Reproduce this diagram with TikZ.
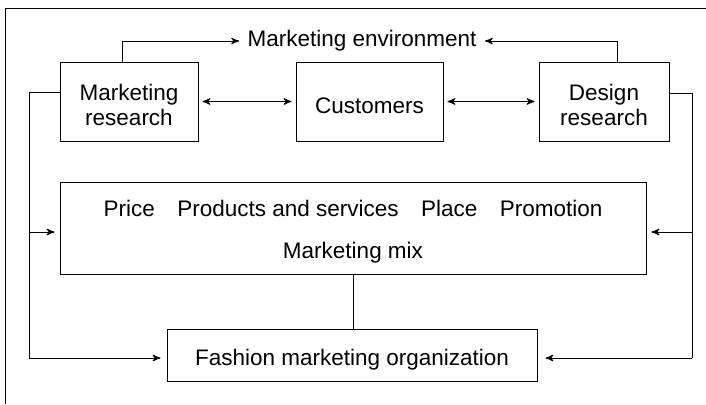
\documentclass[tikz,border=0pt]{standalone}
\usepackage{fontspec}
\setmainfont{Liberation Sans}
\usetikzlibrary{positioning, arrows}

\begin{document}
\begin{tikzpicture}[x=0.5pt,y=-0.5pt,>=stealth',line width=0.5pt,
        font=\fontsize{11.25}{12.5}\selectfont,
        box/.style={draw,align=center,inner sep=0pt},
        link/.style={shorten >=2pt,shorten <=2pt}]
        \useasboundingbox (0,0) rectangle (706,404);
        \draw (706,8) -| (5,404);
        % top row
        \node[box,minimum width=69pt,minimum height=39.5pt,text height=24.5pt](mres) at (129,101.5){Marketing\\research};
        \node[box,minimum width=73.5pt,minimum height=39.5pt,text height=12pt](cust) at (369.5,101.5){Customers};
        \node[box,minimum width=65pt,minimum height=39.5pt,text height=24.5pt](dres) at (604,101.5){Design\\research};
        \node[inner sep=0pt](env) at (362,41){Marketing environment};
        % mix and organization
        \node[box,minimum width=293pt,minimum height=46pt,text height=33pt,font=\fontsize{11.25}{21}\selectfont](mix) at (353,228)
                {Price\hspace{1em}Products and services\hspace{1em}Place\hspace{1em}Promotion\\Marketing mix};
        \node[box,minimum width=185pt,minimum height=26pt,text height=13pt](fmo) at (352,355){Fashion marketing organization};
        \coordinate (lbend) at (29,358);
        \coordinate (rbend) at (692,358);
        % connectors
        \draw[<->,link] (mres) -- (cust);
        \draw[<->,link] (cust) -- (dres);
        \draw[->,shorten >=4pt] ([xshift=-3.5pt]mres.north) |- (env);
        \draw[->,shorten >=4pt] ([xshift=6.5pt]dres.north) |- (env);
        \draw ([yshift=4.75pt]mres.west) -| (lbend);
        \draw ([yshift=4.25pt]dres.east) -| (rbend);
        \draw[->,shorten >=3pt] (lbend) -- (lbend -| fmo.west);
        \draw[->,shorten >=4pt] (rbend) -- (rbend -| fmo.east);
        \draw[->,shorten >=2.5pt] ([yshift=-2pt]lbend |- mix.west) -- ([yshift=-2pt]mix.west);
        \draw[->,shorten >=2.5pt] ([yshift=-2pt]rbend |- mix.east) -- ([yshift=-2pt]mix.east);
        \draw (mix.south) -- (mix.south |- fmo.north);
\end{tikzpicture}
\end{document}
